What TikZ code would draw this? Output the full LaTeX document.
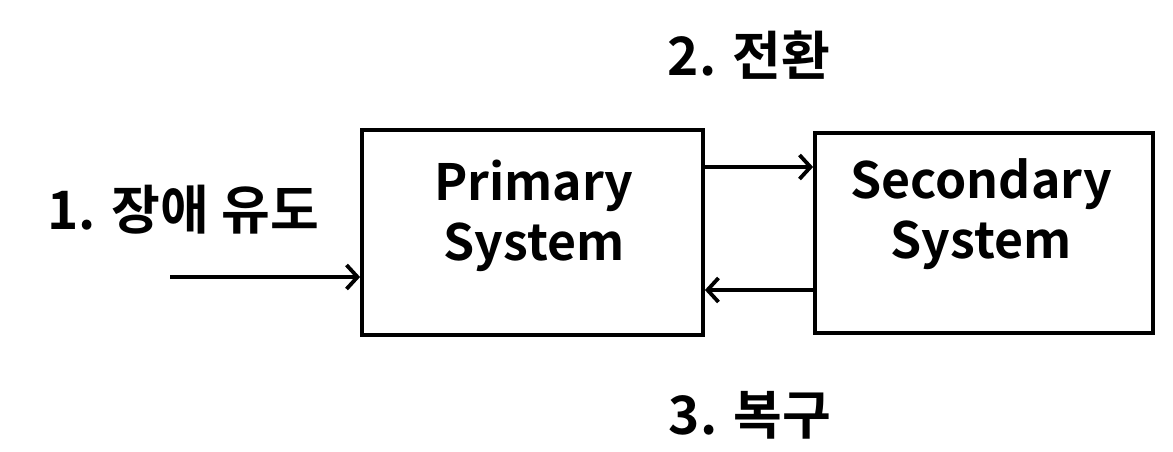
\documentclass[tikz,border=0pt]{standalone}
\usepackage{fontspec}
\setmainfont{Noto Sans CJK KR}[BoldFont={Noto Sans CJK KR Bold}]
\usetikzlibrary{arrows.meta}
\begin{document}
\begin{tikzpicture}[x=1pt,y=-1pt,
  sysbox/.style={draw,line width=3.8pt,inner sep=0pt},
  lbl/.style={font=\fontsize{53}{60}\selectfont\bfseries,inner sep=0pt},
  boxtxt/.style={font=\fontsize{50}{60}\selectfont\bfseries,align=center,inner sep=0pt},
  conn/.style={line width=3.8pt,-{Straight Barb[length=11pt,width=24pt,line width=3.8pt]}}]
\useasboundingbox (0,0) rectangle (1173,452);
\node[sysbox,minimum width=341pt,minimum height=205pt] (prim) at (532.5,232.5) {};
\node[sysbox,minimum width=338pt,minimum height=200pt] (sec) at (984,233) {};
\node[boxtxt] (primt) at (534,216) {Primary\\System};
\node[boxtxt] (sect) at (981,214) {Secondary\\System};
\node[lbl] (l1) at (183,210) {1. 장애 유도};
\node[lbl] (l2) at (749,55) {2. 전환};
\node[lbl] (l3) at (750,415) {3. 복구};
\coordinate (in) at (170,277);
\draw[conn] (in) -- (in -| prim.west);
\draw[conn] (prim.east |- 0,167) -- (sec.west |- 0,167);
\draw[conn] (sec.west |- 0,290) -- (prim.east |- 0,290);
\end{tikzpicture}
\end{document}
